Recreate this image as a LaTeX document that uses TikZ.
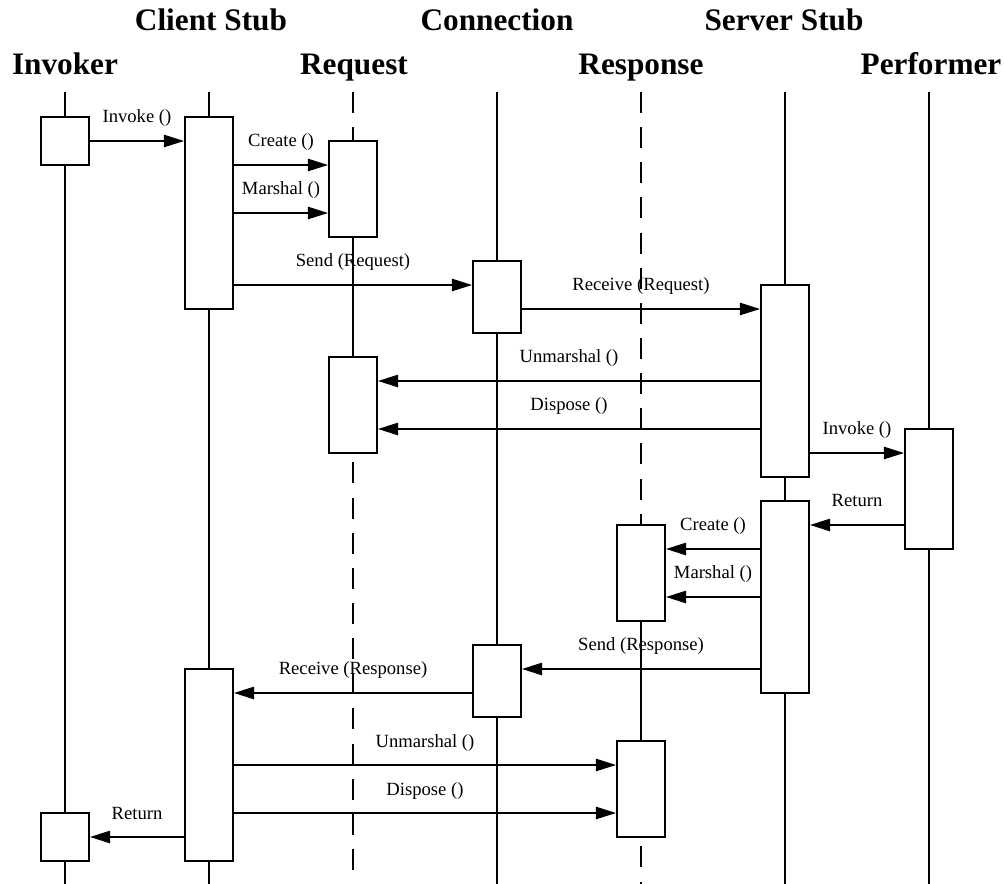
\documentclass[tikz,border=0pt]{standalone}
\usepackage{fontspec}
\setmainfont{Liberation Serif}
\usetikzlibrary{arrows.meta, positioning, calc}

\tikzset{
  objname/.style={font=\fontsize{17.8}{20}\selectfont\bfseries, anchor=base, inner sep=0pt},
  actbox/.style={draw, fill=white, line width=1.1pt, inner sep=0pt,
    minimum width=0.96cm, minimum height=#1*0.48cm},
  lifeline/.style={line width=1.1pt},
  deadline/.style={line width=1.1pt, dash pattern=on 12pt off 8pt},
  msg/.style={line width=1.1pt, -{Triangle[length=11.5pt,width=7pt]}},
  lbl/.style={font=\fontsize{10.6}{12}\selectfont, anchor=base, inner sep=0pt, yshift=0.36cm}
}

\begin{document}
\begin{tikzpicture}[x=0.02cm, y=-0.02cm]
  \useasboundingbox (0,0) rectangle (1005,884);

  % object names
  \node[objname] (invoker) at (65,75) {Invoker};
  \node[objname] (clientstub) at (211,31) {Client Stub};
  \node[objname] (request) at (354,75) {Request};
  \node[objname] (connection) at (497,31) {Connection};
  \node[objname] (response) at (641,75) {Response};
  \node[objname] (serverstub) at (784,31) {Server Stub};
  \node[objname] (performer) at (931,75) {Performer};

  % life lines
  \draw[lifeline] (65,92) -- (65,884);
  \draw[lifeline] (209,92) -- (209,884);
  \draw[lifeline] (497,92) -- (497,884);
  \draw[lifeline] (785,92) -- (785,884);
  \draw[lifeline] (929,92) -- (929,884);
  \draw[deadline] (353,92) -- (353,237);
  \draw[lifeline] (353,237) -- (353,357);
  \draw[deadline] (353,357) -- (353,884);
  \draw[deadline] (641,92) -- (641,621);
  \draw[lifeline] (641,621) -- (641,741);
  \draw[deadline] (641,741) -- (641,884);

  % activations
  \node[actbox=2] (inv1) at (65,141) {};
  \node[actbox=8] (cs1) at (209,213) {};
  \node[actbox=4] (req1) at (353,189) {};
  \node[actbox=3] (con1) at (497,297) {};
  \node[actbox=8] (ss1) at (785,381) {};
  \node[actbox=4] (req2) at (353,405) {};
  \node[actbox=5] (perf1) at (929,489) {};
  \node[actbox=8] (ss2) at (785,597) {};
  \node[actbox=4] (resp1) at (641,573) {};
  \node[actbox=3] (con2) at (497,681) {};
  \node[actbox=8] (cs2) at (209,765) {};
  \node[actbox=4] (resp2) at (641,789) {};
  \node[actbox=2] (inv2) at (65,837) {};

  % messages
  \draw[msg] (inv1.east |- 0,141) -- node[lbl] {Invoke ()} (cs1.west |- 0,141);
  \draw[msg] (cs1.east |- 0,165) -- node[lbl] {Create ()} (req1.west |- 0,165);
  \draw[msg] (cs1.east |- 0,213) -- node[lbl] {Marshal ()} (req1.west |- 0,213);
  \draw[msg] (cs1.east |- 0,285) -- node[lbl] {Send (Request)} (con1.west |- 0,285);
  \draw[msg] (con1.east |- 0,309) -- node[lbl] {Receive (Request)} (ss1.west |- 0,309);
  \draw[msg] (ss1.west |- 0,381) -- node[lbl] {Unmarshal ()} (req2.east |- 0,381);
  \draw[msg] (ss1.west |- 0,429) -- node[lbl] {Dispose ()} (req2.east |- 0,429);
  \draw[msg] (ss1.east |- 0,453) -- node[lbl] {Invoke ()} (perf1.west |- 0,453);
  \draw[msg] (perf1.west |- 0,525) -- node[lbl] {Return} (ss2.east |- 0,525);
  \draw[msg] (ss2.west |- 0,549) -- node[lbl] {Create ()} (resp1.east |- 0,549);
  \draw[msg] (ss2.west |- 0,597) -- node[lbl] {Marshal ()} (resp1.east |- 0,597);
  \draw[msg] (ss2.west |- 0,669) -- node[lbl] {Send (Response)} (con2.east |- 0,669);
  \draw[msg] (con2.west |- 0,693) -- node[lbl] {Receive (Response)} (cs2.east |- 0,693);
  \draw[msg] (cs2.east |- 0,765) -- node[lbl] {Unmarshal ()} (resp2.west |- 0,765);
  \draw[msg] (cs2.east |- 0,813) -- node[lbl] {Dispose ()} (resp2.west |- 0,813);
  \draw[msg] (cs2.west |- 0,837) -- node[lbl] {Return} (inv2.east |- 0,837);
\end{tikzpicture}
\end{document}
